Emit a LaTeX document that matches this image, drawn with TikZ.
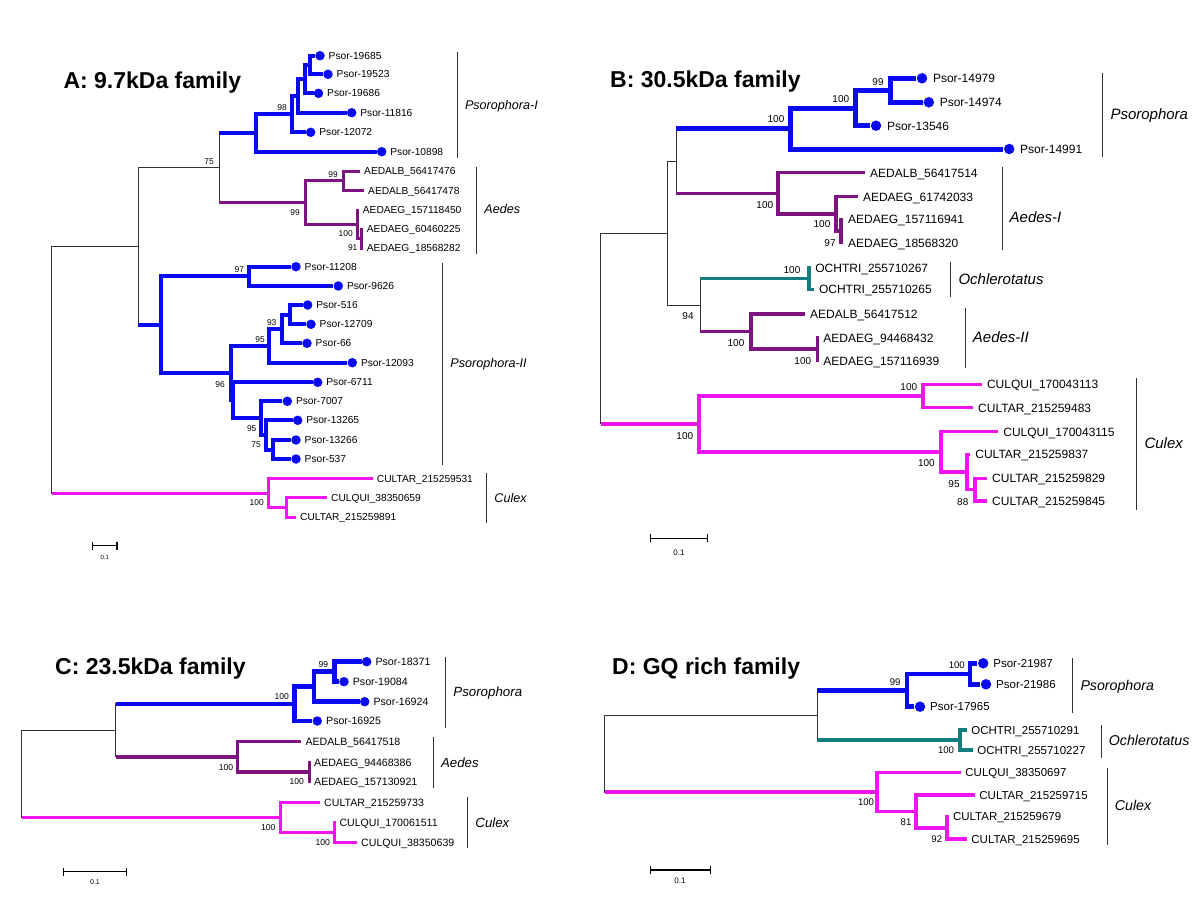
\documentclass[tikz,border=0pt]{standalone}
\usepackage{fontspec}
\setmainfont{Liberation Sans}
\usetikzlibrary{arrows.meta}
\definecolor{psor}{RGB}{10,10,240}
\definecolor{aed}{RGB}{125,20,130}
\definecolor{cul}{RGB}{240,20,240}
\definecolor{och}{RGB}{20,125,125}
\definecolor{blk}{RGB}{50,50,50}
\pgfdeclarelayer{edges}
\pgfsetlayers{edges,main}
\newcommand\dleaf[4]{%
  \coordinate (#1) at ({#2-\dotoff},#3);
  \node[dotn] (#1d) at (#2,#3) {};
  \node[lab] (#1t) at ({#2+\laboff},#3) {#4};}
\newcommand\leaf[4]{%
  \coordinate (#1) at ({#2-\lgap},#3);
  \node[lab] (#1t) at (#2,#3) {#4};}
\newcommand\inode[3]{\coordinate (#1) at (#2,#3);}
\newcommand\kids[6]{%
  \begin{pgfonlayer}{edges}
  \draw[#1,line cap=rect] (#2 |- #4) -- (#2 |- #6);
  \draw[#3] (#2 |- #4) -- (#4);
  \draw[#5] (#2 |- #6) -- (#6);
  \end{pgfonlayer}}
\newcommand\boot[4]{\node[bs] (#1) at (#2,#3) {#4};}
\newcommand\grpbar[6]{% name, x, y1, y2, ylab, text
  \draw[barln] (#2,#3) -- (#2,#4);
  \node[grp] (#1) at ({#2+7.5},#5) {#6};}
\tikzset{
  title/.style={font=\fontsize{23}{23}\selectfont\bfseries, anchor=west, inner sep=0pt, text height=16.5pt, text depth=0pt},
  barln/.style={draw=blk, line width=1pt},
  sbar/.style={draw=black, line width=1.3pt, {Bar[width=8pt]}-{Bar[width=8pt]}},
  brBk/.style={blk, line width=1pt},
}
\begin{document}
\begin{tikzpicture}[x=1pt,y=-1pt]
\begin{pgfonlayer}{edges}
\fill[white] (0,0) rectangle (1200,910);
\end{pgfonlayer}
\path[use as bounding box] (0,0) rectangle (1200,910);

% ================= Panel A =================
\def\dotoff{5}\def\laboff{8.5}\def\lgap{4}
\begin{scope}[brPs/.style={psor,line width=4pt}, brAe/.style={aed,line width=3pt}, brCu/.style={cul,line width=3pt},
 lab/.style={font=\fontsize{10.2}{10.2}\selectfont, inner sep=0pt, anchor=west, text height=7.3pt, text depth=0pt},
 bs/.style={font=\fontsize{8.4}{8.4}\selectfont, inner sep=0pt, text height=6pt, text depth=0pt},
 dotn/.style={circle, fill=psor, inner sep=0pt, minimum size=9.5pt},
 grp/.style={font=\fontsize{12.6}{12.6}\selectfont\itshape, inner sep=0pt, anchor=west, text height=9pt, text depth=0pt}]
\node[title] (tA) at (63.3,80) {A: 9.7kDa family};
\dleaf{AP19685}{320}{55.7}{Psor-19685}
\dleaf{AP19523}{328}{74.3}{Psor-19523}
\dleaf{AP19686}{318.5}{93.3}{Psor-19686}
\dleaf{AP11816}{351.7}{112.7}{Psor-11816}
\dleaf{AP12072}{310.7}{132.3}{Psor-12072}
\dleaf{AP10898}{381.7}{151.7}{Psor-10898}
\leaf{AL476}{364}{171}{AEDALB\_56417476}
\leaf{AL478}{368}{190.7}{AEDALB\_56417478}
\leaf{AG450}{362.7}{210}{AEDAEG\_157118450}
\leaf{AG225}{366.7}{229}{AEDAEG\_60460225}
\leaf{AG282}{366.7}{248.3}{AEDAEG\_18568282}
\dleaf{AP11208}{296}{266.7}{Psor-11208}
\dleaf{AP9626}{338.3}{286}{Psor-9626}
\dleaf{AP516}{307.7}{305}{Psor-516}
\dleaf{AP12709}{311}{324.3}{Psor-12709}
\dleaf{AP66}{307}{343.3}{Psor-66}
\dleaf{AP12093}{352.3}{362.7}{Psor-12093}
\dleaf{AP6711}{317.7}{382.3}{Psor-6711}
\dleaf{AP7007}{287.3}{401.3}{Psor-7007}
\dleaf{AP13265}{297.7}{420.3}{Psor-13265}
\dleaf{AP13266}{296}{440}{Psor-13266}
\dleaf{AP537}{296}{459}{Psor-537}
\leaf{AC531}{376.7}{478.7}{CULTAR\_215259531}
\leaf{AQ659}{331}{497.7}{CULQUI\_38350659}
\leaf{AC891}{300}{517}{CULTAR\_215259891}
\inode{An1}{310}{65}
\inode{An2}{305}{79.2}
\inode{An3}{297.7}{96}
\inode{An4}{292.3}{114.1}
\inode{An5}{256}{132.9}
\inode{Aa1}{343.3}{180.8}
\inode{Aa2}{361.7}{238.7}
\inode{Aa3}{357.3}{224.3}
\inode{Aa4}{305}{202.6}
\inode{An6}{219}{167.8}
\inode{Ab1}{249}{276.3}
\inode{Ac1}{290}{314.7}
\inode{Ac2}{282.3}{329}
\inode{Ac3}{269}{346}
\inode{Ad1}{272.7}{449.5}
\inode{Ad2}{265.7}{434.9}
\inode{Ad3}{260.7}{418.1}
\inode{Ac4b}{232.7}{400.2}
\inode{Ac4a}{231}{373.1}
\inode{Abr}{161}{324.7}
\inode{Ar2}{138.3}{246.2}
\inode{Ae1}{286.7}{507.3}
\inode{Ae2}{268.7}{493}
\inode{Ar}{51.7}{369.6}
\kids{brBk}{Ar}{brBk}{Ar2}{brCu}{Ae2}
\kids{brBk}{Ar2}{brBk}{An6}{brPs}{Abr}
\kids{brBk}{An6}{brPs}{An5}{brAe}{Aa4}
\kids{brPs}{An5}{brPs}{An4}{brPs}{AP10898}
\kids{brPs}{An4}{brPs}{An3}{brPs}{AP12072}
\kids{brPs}{An3}{brPs}{An2}{brPs}{AP11816}
\kids{brPs}{An2}{brPs}{An1}{brPs}{AP19686}
\kids{brPs}{An1}{brPs}{AP19685}{brPs}{AP19523}
\kids{brAe}{Aa4}{brAe}{Aa1}{brAe}{Aa3}
\kids{brAe}{Aa1}{brAe}{AL476}{brAe}{AL478}
\kids{brAe}{Aa3}{brAe}{AG450}{brAe}{Aa2}
\kids{brAe}{Aa2}{brAe}{AG225}{brAe}{AG282}
\kids{brPs}{Abr}{brPs}{Ab1}{brPs}{Ac4a}
\kids{brPs}{Ab1}{brPs}{AP11208}{brPs}{AP9626}
\kids{brPs}{Ac4a}{brPs}{Ac3}{brPs}{Ac4b}
\kids{brPs}{Ac3}{brPs}{Ac2}{brPs}{AP12093}
\kids{brPs}{Ac2}{brPs}{Ac1}{brPs}{AP66}
\kids{brPs}{Ac1}{brPs}{AP516}{brPs}{AP12709}
\kids{brPs}{Ac4b}{brPs}{AP6711}{brPs}{Ad3}
\kids{brPs}{Ad3}{brPs}{AP7007}{brPs}{Ad2}
\kids{brPs}{Ad2}{brPs}{AP13265}{brPs}{Ad1}
\kids{brPs}{Ad1}{brPs}{AP13266}{brPs}{AP537}
\kids{brCu}{Ae2}{brCu}{AC531}{brCu}{Ae1}
\kids{brCu}{Ae1}{brCu}{AQ659}{brCu}{AC891}
\boot{Ab98}{282}{107}{98}
\boot{Ab75a}{209}{161.7}{75}
\boot{Ab99a}{333}{174}{99}
\boot{Ab99b}{295}{212.3}{99}
\boot{Ab100a}{345.7}{233.3}{100}
\boot{Ab91}{352.7}{247.7}{91}
\boot{Ab97}{239.3}{269}{97}
\boot{Ab93}{271.7}{322}{93}
\boot{Ab95a}{260}{339}{95}
\boot{Ab96}{220}{384}{96}
\boot{Ab95b}{251.7}{428.3}{95}
\boot{Ab75b}{256}{444.3}{75}
\boot{Ab100b}{256.7}{502.3}{100}
\grpbar{Ag1}{457.3}{51.7}{158.3}{105}{Psorophora-I}
\grpbar{Ag2}{476.7}{166.7}{254.3}{209.3}{Aedes}
\grpbar{Ag3}{442.7}{263.3}{465}{362.7}{Psorophora-II}
\grpbar{Ag4}{486.7}{473.3}{523.3}{497.7}{Culex}
\coordinate (As1) at (91.7,545.7);
\coordinate (As2) at (117.7,545.7);
\draw[sbar] (As1) -- (As2);
\node[font=\fontsize{6}{6}\selectfont, inner sep=0pt] (Ast) at (104.7,557) {0.1};
\end{scope}

% ================= Panel B =================
\def\dotoff{6}\def\laboff{10.8}\def\lgap{5}
\begin{scope}[brPs/.style={psor,line width=5pt}, brAe/.style={aed,line width=3.5pt}, brCu/.style={cul,line width=3.5pt}, brOc/.style={och,line width=3.5pt},
 lab/.style={font=\fontsize{12}{12}\selectfont, inner sep=0pt, anchor=west, text height=8.6pt, text depth=0pt},
 bs/.style={font=\fontsize{10}{10}\selectfont, inner sep=0pt, text height=7.2pt, text depth=0pt},
 dotn/.style={circle, fill=psor, inner sep=0pt, minimum size=10.5pt},
 grp/.style={font=\fontsize{15}{15}\selectfont\itshape, inner sep=0pt, anchor=west, text height=10.7pt, text depth=0pt}]
\node[title] (tB) at (610,79) {B: 30.5kDa family};
\dleaf{BP14979}{922}{78.3}{Psor-14979}
\dleaf{BP14974}{928.8}{102.3}{Psor-14974}
\dleaf{BP13546}{876}{125.7}{Psor-13546}
\dleaf{BP14991}{1009.2}{149}{Psor-14991}
\leaf{BL514}{870}{172.7}{AEDALB\_56417514}
\leaf{BG033}{862.8}{196.7}{AEDAEG\_61742033}
\leaf{BG941}{848}{219.3}{AEDAEG\_157116941}
\leaf{BG320}{848}{242.7}{AEDAEG\_18568320}
\leaf{BO267}{815.2}{267.7}{OCHTRI\_255710267}
\leaf{BO265}{818.8}{289.3}{OCHTRI\_255710265}
\leaf{BL512}{810}{314}{AEDALB\_56417512}
\leaf{BG432}{823.2}{337.7}{AEDAEG\_94468432}
\leaf{BG939}{823.2}{360.7}{AEDAEG\_157116939}
\leaf{BQ113}{986.8}{384.3}{CULQUI\_170043113}
\leaf{BC483}{978}{407.7}{CULTAR\_215259483}
\leaf{BQ115}{1003.2}{431.7}{CULQUI\_170043115}
\leaf{BC837}{975.2}{454.3}{CULTAR\_215259837}
\leaf{BC829}{992}{478.3}{CULTAR\_215259829}
\leaf{BC845}{992}{501}{CULTAR\_215259845}
\inode{Bf1}{890}{90.3}
\inode{Bf2}{855.2}{108}
\inode{Bf3}{790.8}{128.5}
\inode{Bg1}{840.8}{231}
\inode{Bg2}{836}{213.8}
\inode{Bg3}{778}{193.3}
\inode{Bh1}{676}{161.3}
\inode{Bo1}{808.8}{278.5}
\inode{Bi1}{817.6}{349.2}
\inode{Bi2}{751.2}{331.6}
\inode{Bo2}{700}{305}
\inode{Bh2}{667}{233.2}
\inode{Bj1}{922.8}{396}
\inode{Bk1}{975.2}{489.7}
\inode{Bk2}{966.8}{472}
\inode{Bk3}{941.2}{451.8}
\inode{Bj2}{698.8}{423.9}
\inode{Br}{600.7}{328.5}
\kids{brBk}{Br}{brBk}{Bh2}{brCu}{Bj2}
\kids{brBk}{Bh2}{brBk}{Bh1}{brBk}{Bo2}
\kids{brBk}{Bh1}{brPs}{Bf3}{brAe}{Bg3}
\kids{brPs}{Bf3}{brPs}{Bf2}{brPs}{BP14991}
\kids{brPs}{Bf2}{brPs}{Bf1}{brPs}{BP13546}
\kids{brPs}{Bf1}{brPs}{BP14979}{brPs}{BP14974}
\kids{brAe}{Bg3}{brAe}{BL514}{brAe}{Bg2}
\kids{brAe}{Bg2}{brAe}{BG033}{brAe}{Bg1}
\kids{brAe}{Bg1}{brAe}{BG941}{brAe}{BG320}
\kids{brBk}{Bo2}{brOc}{Bo1}{brAe}{Bi2}
\kids{brOc}{Bo1}{brOc}{BO267}{brOc}{BO265}
\kids{brAe}{Bi2}{brAe}{BL512}{brAe}{Bi1}
\kids{brAe}{Bi1}{brAe}{BG432}{brAe}{BG939}
\kids{brCu}{Bj2}{brCu}{Bj1}{brCu}{Bk3}
\kids{brCu}{Bj1}{brCu}{BQ113}{brCu}{BC483}
\kids{brCu}{Bk3}{brCu}{BQ115}{brCu}{Bk2}
\kids{brCu}{Bk2}{brCu}{BC837}{brCu}{Bk1}
\kids{brCu}{Bk1}{brCu}{BC829}{brCu}{BC845}
\boot{Bb99}{878}{81.7}{99}
\boot{Bb100a}{840.8}{98.7}{100}
\boot{Bb100b}{776}{119.3}{100}
\boot{Bb100c}{764.8}{205}{100}
\boot{Bb100d}{822}{224.3}{100}
\boot{Bb97}{830}{242.7}{97}
\boot{Bb100e}{792}{270}{100}
\boot{Bb94}{688}{316}{94}
\boot{Bb100f}{736}{343.3}{100}
\boot{Bb100g}{802.8}{360.7}{100}
\boot{Bb100h}{908.8}{387.3}{100}
\boot{Bb100i}{684.8}{435.7}{100}
\boot{Bb100j}{926.4}{463.3}{100}
\boot{Bb95}{954}{484}{95}
\boot{Bb88}{962.8}{502}{88}
\grpbar{Bg1t}{1102.8}{72.7}{156.7}{114}{Psorophora}
\grpbar{Bg2t}{1002}{166.7}{250}{216.7}{Aedes-I}
\grpbar{Bg3t}{950.8}{261.7}{296.7}{279}{Ochlerotatus}
\grpbar{Bg4t}{965.2}{308.3}{368.3}{337.3}{Aedes-II}
\grpbar{Bg5t}{1136.8}{378.3}{510}{442.7}{Culex}
\coordinate (Bs1) at (650,538.3);
\coordinate (Bs2) at (708,538.3);
\draw[sbar] (Bs1) -- (Bs2);
\node[font=\fontsize{8}{8}\selectfont, inner sep=0pt] (Bst) at (679,553) {0.1};
\end{scope}

% ================= Panel C =================
\def\dotoff{5}\def\laboff{8.7}\def\lgap{4}
\begin{scope}[brPs/.style={psor,line width=4.5pt}, brAe/.style={aed,line width=3.5pt}, brCu/.style={cul,line width=3pt},
 lab/.style={font=\fontsize{10.6}{10.6}\selectfont, inner sep=0pt, anchor=west, text height=7.6pt, text depth=0pt},
 bs/.style={font=\fontsize{8.6}{8.6}\selectfont, inner sep=0pt, text height=6.2pt, text depth=0pt},
 dotn/.style={circle, fill=psor, inner sep=0pt, minimum size=9.5pt},
 grp/.style={font=\fontsize{13.3}{13.3}\selectfont\itshape, inner sep=0pt, anchor=west, text height=9.5pt, text depth=0pt}]
\node[title] (tC) at (55,666.7) {C: 23.5kDa family};
\dleaf{CP18371}{366.7}{661.7}{Psor-18371}
\dleaf{CP19084}{344}{681.7}{Psor-19084}
\dleaf{CP16924}{364.7}{701.7}{Psor-16924}
\dleaf{CP16925}{317.3}{721}{Psor-16925}
\leaf{CL518}{305.3}{741.7}{AEDALB\_56417518}
\leaf{CG386}{314}{762.3}{AEDAEG\_94468386}
\leaf{CG921}{314}{781.7}{AEDAEG\_157130921}
\leaf{CC733}{324}{802.3}{CULTAR\_215259733}
\leaf{CQ511}{339.3}{822.3}{CULQUI\_170061511}
\leaf{CQ639}{361}{842.3}{CULQUI\_38350639}
\inode{Cl1}{334.3}{671.7}
\inode{Cl2}{314}{686.7}
\inode{Cl3}{294.3}{703.8}
\inode{Cm1}{309.5}{772}
\inode{Cm2}{237.7}{756.8}
\inode{CN}{115.7}{730.3}
\inode{Cp1}{334.3}{832.3}
\inode{Cp2}{280}{817.3}
\inode{Cr}{21.7}{773.8}
\kids{brBk}{Cr}{brBk}{CN}{brCu}{Cp2}
\kids{brBk}{CN}{brPs}{Cl3}{brAe}{Cm2}
\kids{brPs}{Cl3}{brPs}{Cl2}{brPs}{CP16925}
\kids{brPs}{Cl2}{brPs}{Cl1}{brPs}{CP16924}
\kids{brPs}{Cl1}{brPs}{CP18371}{brPs}{CP19084}
\kids{brAe}{Cm2}{brAe}{CL518}{brAe}{Cm1}
\kids{brAe}{Cm1}{brAe}{CG386}{brAe}{CG921}
\kids{brCu}{Cp2}{brCu}{CC733}{brCu}{Cp1}
\kids{brCu}{Cp1}{brCu}{CQ511}{brCu}{CQ639}
\boot{Cb99}{323.3}{664}{99}
\boot{Cb100a}{281.7}{696.7}{100}
\boot{Cb100b}{226}{767.3}{100}
\boot{Cb100c}{296.7}{781.7}{100}
\boot{Cb100d}{268.3}{827.3}{100}
\boot{Cb100e}{322.7}{842.3}{100}
\grpbar{Cg1}{445.7}{656.7}{728.3}{691.7}{Psorophora}
\grpbar{Cg2}{433.3}{736.7}{788.3}{762.7}{Aedes}
\grpbar{Cg3}{467.7}{796.7}{848.3}{822.7}{Culex}
\coordinate (Cs1) at (62.7,871.7);
\coordinate (Cs2) at (127.3,871.7);
\draw[sbar] (Cs1) -- (Cs2);
\node[font=\fontsize{7}{7}\selectfont, inner sep=0pt] (Cst) at (95,882) {0.1};
\end{scope}

% ================= Panel D =================
\def\dotoff{6}\def\laboff{10}\def\lgap{4.5}
\begin{scope}[brPs/.style={psor,line width=4.5pt}, brCu/.style={cul,line width=3.5pt}, brOc/.style={och,line width=3.5pt},
 lab/.style={font=\fontsize{11.5}{11.5}\selectfont, inner sep=0pt, anchor=west, text height=8.2pt, text depth=0pt},
 bs/.style={font=\fontsize{9.6}{9.6}\selectfont, inner sep=0pt, text height=6.9pt, text depth=0pt},
 dotn/.style={circle, fill=psor, inner sep=0pt, minimum size=10.5pt},
 grp/.style={font=\fontsize{14.2}{14.2}\selectfont\itshape, inner sep=0pt, anchor=west, text height=10.2pt, text depth=0pt}]
\node[title] (tD) at (612,666.7) {D: GQ rich family};
\dleaf{DP21987}{983.2}{663.3}{Psor-21987}
\dleaf{DP21986}{986}{684.3}{Psor-21986}
\dleaf{DP17965}{920}{706.7}{Psor-17965}
\leaf{DO291}{971.2}{730}{OCHTRI\_255710291}
\leaf{DO227}{977.2}{750}{OCHTRI\_255710227}
\leaf{DQ697}{965.2}{772.7}{CULQUI\_38350697}
\leaf{DC715}{979.2}{795}{CULTAR\_215259715}
\leaf{DC679}{952.8}{816.7}{CULTAR\_215259679}
\leaf{DC695}{971.2}{839}{CULTAR\_215259695}
\inode{Dq1}{970}{673.8}
\inode{Dq2}{907.2}{690.3}
\inode{Dr1}{960}{740}
\inode{DN}{817.2}{715.2}
\inode{Ds1}{947.2}{827.8}
\inode{Ds2}{916}{811.4}
\inode{Ds3}{877.2}{792}
\inode{Dr}{604.8}{753.6}
\kids{brBk}{Dr}{brBk}{DN}{brCu}{Ds3}
\kids{brBk}{DN}{brPs}{Dq2}{brOc}{Dr1}
\kids{brPs}{Dq2}{brPs}{Dq1}{brPs}{DP17965}
\kids{brPs}{Dq1}{brPs}{DP21987}{brPs}{DP21986}
\kids{brOc}{Dr1}{brOc}{DO291}{brOc}{DO227}
\kids{brCu}{Ds3}{brCu}{DQ697}{brCu}{Ds2}
\kids{brCu}{Ds2}{brCu}{DC715}{brCu}{Ds1}
\kids{brCu}{Ds1}{brCu}{DC679}{brCu}{DC695}
\boot{Db100a}{956.8}{665}{100}
\boot{Db99}{895.2}{682.3}{99}
\boot{Db100b}{946}{750}{100}
\boot{Db100c}{866}{802.3}{100}
\boot{Db81}{906}{821.7}{81}
\boot{Db92}{936.8}{839}{92}
\grpbar{Dg1}{1072.8}{658.3}{712.7}{685}{Psorophora}
\grpbar{Dg2}{1101.2}{725}{758.3}{740}{Ochlerotatus}
\grpbar{Dg3}{1107.2}{768.3}{845}{805}{Culex}
\coordinate (Ds1b) at (650,870);
\coordinate (Ds2b) at (711.2,870);
\draw[sbar] (Ds1b) -- (Ds2b);
\node[font=\fontsize{8}{8}\selectfont, inner sep=0pt] (Dst) at (680,881) {0.1};
\end{scope}
\end{tikzpicture}
\end{document}
